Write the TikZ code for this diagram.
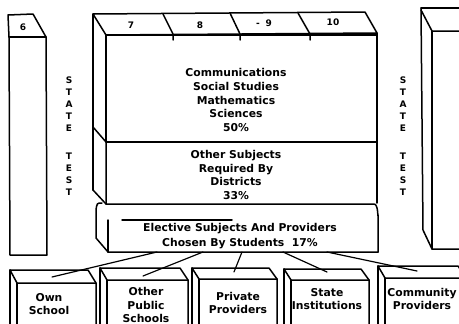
\documentclass[tikz,border=0pt]{standalone}
\usepackage{fontspec}
\setmainfont{DejaVu Sans}
\begin{document}
\begin{tikzpicture}[x=1pt,y=-1pt,line width=1.5pt,line join=round,line cap=round,
  lbl/.style={font=\fontsize{10.8}{13.6}\selectfont\bfseries,align=center,inner sep=0pt},
  small/.style={font=\fontsize{9}{10}\selectfont\bfseries,inner sep=0pt},
  vert/.style={font=\fontsize{9}{12}\selectfont\bfseries,align=center,inner sep=0pt},
  conn/.style={line width=1.2pt}]
\useasboundingbox (0,0) rectangle (459,324);
\clip (0,0) rectangle (459,324);
% ---- left column (grade 6)
\draw (8,15) -- (33,14) -- (46,37) -- (47,255) -- (10,255) -- (9,37) -- cycle;
\draw (9,37) -- (46,37);
\node[small] (g6) at (23,27) {6};
% ---- right column
\draw (421,8) -- (423,230) -- (432,249) -- (462,249);
\draw (421,8) -- (462,8);
\draw (421,10) -- (432,31) -- (462,31);
\draw (432,31) -- (432,249);
% ---- main block: top face
\draw (93,14) -- (365,12) -- (377,33) -- (106,35) -- cycle;
\draw (163,14) -- (173,34) -- (173,40);
\draw (230,13) -- (240,34) -- (240,40);
\draw (298,13) -- (310,34) -- (310,40);
\node[small] (g7) at (131,25) {7};
\node[small] (g8) at (200,25) {8};
\node[small] (g9) at (264,23) {-\hspace{6pt}9};
\node[small] (g10) at (333,22) {10};
% block 1
\draw (106,35) rectangle (377,142);
\draw (93,14) -- (93,190);
\draw (93,127) -- (106,142);
% block 2
\draw (106,142) -- (106,204) -- (374,204) to[out=0,in=-95] (378,215) -- (378,252);
\draw (377,33) -- (377,203);
\draw (93,190) -- (106,204);
% elective block
\draw (102,203) .. controls (97,203) .. (96,210) -- (96,238) -- (108,252) -- (378,252);
\draw (108,220) -- (108,252);
\draw (122,220) -- (232,220);
% ---- text in main block
\node[lbl] (core) at (236,100) {Communications\\Social Studies\\Mathematics\\Sciences\\50\%};
\node[lbl] (dist) at (236,175) {Other Subjects\\Required By\\Districts\\33\%};
\node[lbl] (elect) at (240,236) {Elective Subjects And Providers\\[2pt]Chosen By Students\ \ 17\%};
% ---- state test labels
\node[vert] (st1) at (69,104) {S\\T\\A\\T\\E};
\node[vert] (te1) at (69,174) {T\\E\\S\\T};
\node[vert] (st2) at (403,104) {S\\T\\A\\T\\E};
\node[vert] (te2) at (403,174) {T\\E\\S\\T};
% ---- bottom boxes
\foreach \xa/\xb/\ta/\tb in {10/96/270/283, 100/188/268/280, 192/277/268/279, 284/369/269/280, 378/466/266/278}{
  \draw (\xa,\ta) -- ({\xb-8},\ta) -- (\xb,\tb) -- (\xb,330);
  \draw (\xa,\ta) -- (\xa,330);
  \draw (\xa,\ta) -- ({\xa+7},\tb) -- (\xb,\tb);
  \draw ({\xa+7},\tb) -- ({\xa+7},330);
}
\node[lbl] (own) at (49,304) {Own\\School};
\node[lbl] (pub) at (146,305) {Other\\Public\\Schools};
\node[lbl] (priv) at (238,303) {Private\\Providers};
\node[lbl] (state) at (327,299) {State\\Institutions};
\node[lbl] (comm) at (422,299) {Community\\Providers};
% ---- connectors
\coordinate (s1) at (157,252); \coordinate (e1) at (52,277);
\coordinate (s2) at (203,252); \coordinate (e2) at (143,276);
\coordinate (s3) at (242,252); \coordinate (e3) at (234,272);
\coordinate (s4) at (283,252); \coordinate (e4) at (327,272);
\coordinate (s5) at (327,252); \coordinate (e5) at (417,271);
\draw[conn] (s1) -- (e1);
\draw[conn] (s2) -- (e2);
\draw[conn] (s3) -- (e3);
\draw[conn] (s4) -- (e4);
\draw[conn] (s5) -- (e5);
\end{tikzpicture}
\end{document}
